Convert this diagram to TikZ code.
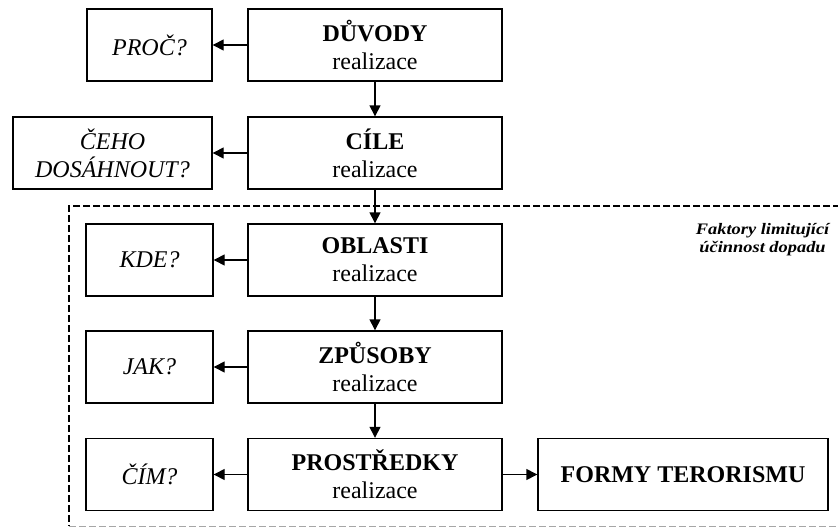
\documentclass[tikz,border=0pt]{standalone}
\usepackage{fontspec}
\setmainfont{Liberation Serif}
\usetikzlibrary{arrows.meta}

\begin{document}
\begin{tikzpicture}[x=1pt, y=-1pt,
	every node/.style={draw=black, line width=1.4pt, rectangle, align=center, inner sep=0pt, minimum height=72pt, font=\fontsize{24}{28}\selectfont},
	hlavni/.style={minimum width=254pt},
	otazka/.style={minimum width=127pt, font=\fontsize{24}{28}\selectfont\itshape},
	every path/.style={draw=black, line width=1.4pt},
	sipka/.style={-{Triangle[length=11pt,width=11pt]}}]
			\useasboundingbox[draw=none] (0,0) rectangle (838,527);
			% ohraniceni faktoru
			\path[dash pattern=on 7pt off 3pt, line width=2pt] (840,206) -- (69,206) -- (69,526);
			\path[dash pattern=on 7pt off 3pt, draw=black!35, line width=1pt] (69,526) -- (840,526);
			\node[draw=none, minimum height=0pt, font=\fontsize{16}{18}\selectfont\bfseries\itshape, anchor=north east] (faktory) at (830,223){\scalebox{1.15}[1]{Faktory limitující}\\\scalebox{1.15}[1]{účinnost dopadu}};

			\node[hlavni] (duvody) at (375,45){\textbf{DŮVODY}\\realizace};
			\node[hlavni] (cile) at (375,153){\textbf{CÍLE}\\realizace};
			\node[hlavni] (oblasti) at (375,260){\textbf{OBLASTI}\\realizace};
			\node[hlavni] (zpusoby) at (375,367){\textbf{ZPŮSOBY}\\realizace};
			\node[hlavni] (prostredky) at (375,474.5){\textbf{PROSTŘEDKY}\\realizace};
			\node[minimum width=290pt, font=\fontsize{24}{28}\selectfont\bfseries] (formy) at (683,474.5){FORMY TERORISMU};

			\node[otazka, minimum width=125pt] (proc) at (149.5,45){PROČ?};
			\node[otazka, minimum width=199pt] (ceho) at (112.5,153){ČEHO\\DOSÁHNOUT?};
			\node[otazka] (kde) at (149.5,260){KDE?};
			\node[otazka] (jak) at (149.5,367){JAK?};
			\node[otazka] (cim) at (149.5,474.5){ČÍM?};

			\path[sipka] (duvody) edge (cile);
			\path[sipka] (cile) edge (oblasti);
			\path[sipka] (oblasti) edge (zpusoby);
			\path[sipka] (zpusoby) edge (prostredky);
			\path[sipka] (duvody) edge (proc);
			\path[sipka] (cile) edge (ceho);
			\path[sipka] (oblasti) edge (kde);
			\path[sipka] (zpusoby) edge (jak);
			\path[sipka] (prostredky) edge (cim);
			\path[sipka] (prostredky) edge (formy);
\end{tikzpicture}
\end{document}
